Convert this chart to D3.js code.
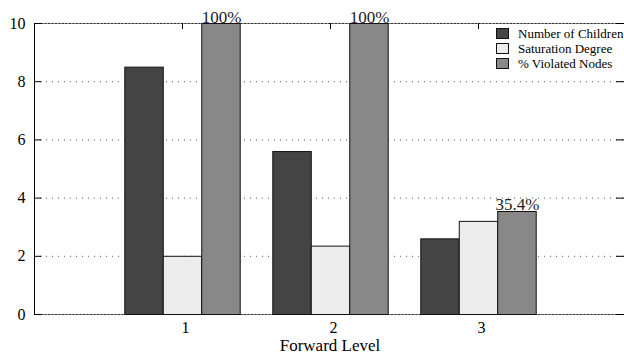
<!DOCTYPE html>
<html>
<head>
<meta charset="utf-8">
<script src="https://cdn.jsdelivr.net/npm/d3@7/dist/d3.min.js"></script>
<style>
  html, body { margin: 0; padding: 0; background: #fff; }
  svg { display: block; }
</style>
</head>
<body>
<svg id="chart" width="624" height="354"></svg>
<script>
// Forward levels on the x axis
const levels = [1, 2, 3];
// Series per level
const numChildren = [8.5, 5.6, 2.6];
const saturation = [2.0, 2.35, 3.2];
const violatedPct = [100, 100, 35.4];   // shown on a 0-10 scale (percent / 10)
const seriesNames = ["Number of Children", "Saturation Degree", "% Violated Nodes"];
const seriesColors = ["#444444", "#ececec", "#888888"];
const yTicks = [0, 2, 4, 6, 8, 10];

const serif = "Liberation Serif, Times New Roman, serif";
const svg = d3.select("#chart");
const plotLeft = 34, plotRight = 626, plotTop = 23, plotBottom = 314;

const x = d3.scaleLinear().domain([0, 4]).range([plotLeft, plotRight]);
const y = d3.scaleLinear().domain([0, 10]).range([plotBottom, plotTop]);
const step = x(1) - x(0);
const xs = d3.scaleBand().domain(seriesNames).range([-step * 0.39, step * 0.39]);

const rows = levels.map((lv, i) => ({
  level: lv,
  vals: [numChildren[i], saturation[i], violatedPct[i] / 10]
}));

// Dotted horizontal grid
svg.append("g").selectAll("line")
  .data(yTicks.filter(t => t > 0 && t < 10))
  .join("line")
  .attr("x1", plotLeft).attr("x2", plotRight)
  .attr("y1", d => y(d) + 0.5).attr("y2", d => y(d) + 0.5)
  .attr("stroke", "#555").attr("stroke-width", 1)
  .attr("stroke-dasharray", "1,5");

// Top and bottom borders
[10, 0].forEach(v => {
  svg.append("line")
    .attr("x1", plotLeft).attr("x2", plotRight)
    .attr("y1", y(v) + 0.5).attr("y2", y(v) + 0.5)
    .attr("stroke", "#999").attr("stroke-width", 1.2);
  svg.append("line")
    .attr("x1", plotLeft).attr("x2", plotRight)
    .attr("y1", y(v) + 0.5).attr("y2", y(v) + 0.5)
    .attr("stroke", "#333").attr("stroke-width", 1)
    .attr("stroke-dasharray", "2,1.5");
});

// Mirrored ticks along the top and right edges
svg.append("g").selectAll("line")
  .data(levels).join("line")
  .attr("x1", d => Math.round(x(d)) + 0.5).attr("x2", d => Math.round(x(d)) + 0.5)
  .attr("y1", plotTop).attr("y2", plotTop + 6)
  .attr("stroke", "#000");
svg.append("g").selectAll("line")
  .data(yTicks).join("line")
  .attr("x1", plotRight - 10).attr("x2", plotRight)
  .attr("y1", d => y(d) + 0.5).attr("y2", d => y(d) + 0.5)
  .attr("stroke", "#000");

// Y axis
const yAxis = svg.append("g")
  .attr("transform", `translate(${plotLeft + 0.5},0)`)
  .call(d3.axisLeft(y).tickValues(yTicks).tickSize(-7).tickPadding(9).tickFormat(d3.format("d")));
yAxis.attr("font-family", serif).attr("font-size", 16);
yAxis.select(".domain").remove();
yAxis.selectAll(".tick line").attr("stroke", "#000");
yAxis.selectAll("text").attr("fill", "#000");
svg.append("line")
  .attr("x1", plotLeft + 0.5).attr("x2", plotLeft + 0.5)
  .attr("y1", plotTop).attr("y2", plotBottom + 1)
  .attr("stroke", "#000").attr("stroke-width", 1);

// X axis
const xAxis = svg.append("g")
  .attr("transform", `translate(0,${plotBottom + 0.5})`)
  .call(d3.axisBottom(x).tickValues(levels).tickSize(-6).tickPadding(7).tickFormat(d3.format("d")));
xAxis.attr("font-family", serif).attr("font-size", 16);
xAxis.select(".domain").remove();
xAxis.selectAll(".tick line").attr("stroke", "#000");
xAxis.selectAll("text").attr("fill", "#000").attr("dx", 3);

// Clustered bars
const groups = svg.append("g").selectAll("g")
  .data(rows).join("g")
  .attr("transform", d => `translate(${x(d.level)},0)`);
groups.selectAll("rect")
  .data(d => d.vals.map((v, j) => ({ v, j })))
  .join("rect")
  .attr("x", d => xs(seriesNames[d.j]) + 0.5)
  .attr("width", xs.bandwidth())
  .attr("y", d => y(d.v) + 0.5)
  .attr("height", d => y(0) - y(d.v))
  .attr("fill", d => seriesColors[d.j])
  .attr("stroke", "#111").attr("stroke-width", 1);

// Percent labels on the violated-nodes bars
svg.append("g").selectAll("text")
  .data(rows).join("text")
  .attr("x", d => x(d.level) + xs(seriesNames[2]) + xs.bandwidth() / 2 + 1)
  .attr("y", d => y(d.vals[2]) - 0.5)
  .attr("text-anchor", "middle")
  .attr("font-family", serif)
  .attr("font-size", 17)
  .attr("fill", "#222")
  .text((d, i) => violatedPct[i] + "%");

// Axis title
svg.append("text")
  .attr("x", x(2))
  .attr("y", 351)
  .attr("text-anchor", "middle")
  .attr("font-family", serif)
  .attr("font-size", 17)
  .text("Forward Level");

// Legend
const legend = svg.append("g").attr("transform", "translate(496,28)");
seriesNames.forEach((name, i) => {
  const g = legend.append("g").attr("transform", `translate(0,${i * 15})`);
  g.append("rect")
    .attr("x", 0.5).attr("y", 0.5).attr("width", 12).attr("height", 10)
    .attr("fill", seriesColors[i]).attr("stroke", "#111");
  g.append("text")
    .attr("x", 22).attr("y", 9.5)
    .attr("font-family", serif)
    .attr("font-size", 13)
    .text(name);
});
</script>
</body>
</html>
